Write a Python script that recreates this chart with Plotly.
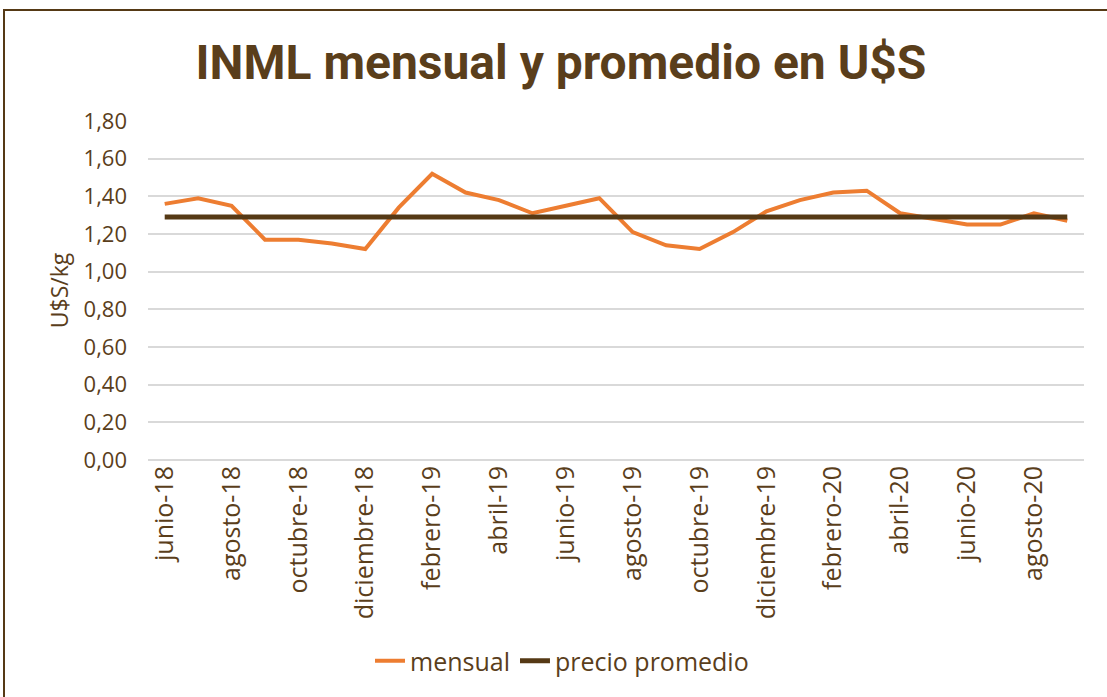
import plotly.graph_objects as go

months = ["junio-18", "julio-18", "agosto-18", "septiembre-18", "octubre-18", "noviembre-18",
          "diciembre-18", "enero-19", "febrero-19", "marzo-19", "abril-19", "mayo-19",
          "junio-19", "julio-19", "agosto-19", "septiembre-19", "octubre-19", "noviembre-19",
          "diciembre-19", "enero-20", "febrero-20", "marzo-20", "abril-20", "mayo-20",
          "junio-20", "julio-20", "agosto-20", "septiembre-20"]
mensual = [1.36, 1.39, 1.35, 1.17, 1.17, 1.15, 1.12, 1.34, 1.52, 1.42, 1.38, 1.31,
           1.35, 1.39, 1.21, 1.14, 1.12, 1.21, 1.32, 1.38, 1.42, 1.43, 1.31, 1.28,
           1.25, 1.25, 1.31, 1.27]
promedio = [1.29] * len(months)
tick_labels = months[::2]

BROWN = "#5a3e1b"
ORANGE = "#ED7D31"
DARK = "#553915"
FONT = "Open Sans"
TFONT = "Roboto"

fig = go.Figure()
fig.add_trace(go.Scatter(x=months, y=mensual, mode="lines", name="mensual",
                         line=dict(color=ORANGE, width=4)))
fig.add_trace(go.Scatter(x=months, y=promedio, mode="lines", name="precio promedio",
                         line=dict(color=DARK, width=5)))

L, R, T, B = 148, 23, 121, 237
W, H = 1107, 697
pw, ph = W - L - R, H - T - B

fig.update_layout(
    width=W, height=H,
    margin=dict(l=L, r=R, t=T, b=B),
    paper_bgcolor="white", plot_bgcolor="white",
    separators=",.",
    font=dict(family=FONT, color=BROWN, size=22),
    title=dict(text="<b>INML mensual y promedio en U$S</b>", x=561 / W, xanchor="center",
               xref="container", y=1 - 62 / H, yanchor="middle",
               font=dict(family=TFONT, size=48, color=BROWN)),
    showlegend=True,
    legend=dict(orientation="h", x=(562 - L) / pw, xanchor="center",
                y=-(661 - (T + ph)) / ph, yanchor="middle",
                font=dict(family=FONT, size=25, color=BROWN),
                tracegroupgap=0),
    shapes=[dict(type="rect", xref="paper", yref="paper",
                 x0=(4 - L) / pw, x1=(1110 - L) / pw,
                 y0=-(700 - (T + ph)) / ph, y1=((T + ph) - 10) / ph,
                 line=dict(color=DARK, width=2), fillcolor="rgba(0,0,0,0)", layer="below")],
)
fig.update_xaxes(type="category", categoryorder="array", categoryarray=months,
                 tickmode="array", tickvals=tick_labels, ticktext=tick_labels,
                 tickangle=-90, showgrid=False, showline=False, ticks="",
                 tickfont=dict(family=FONT, size=25, color=BROWN),
                 range=[-0.5, len(months) - 0.5])
fig.update_yaxes(range=[0, 1.8], dtick=0.2, tick0=0, tickformat=".2f",
                 showgrid=True, gridcolor="#D9D9D9", gridwidth=2,
                 zeroline=True, zerolinecolor="#D9D9D9", zerolinewidth=2,
                 showline=False, ticks="", ticklabelstandoff=20,
                 tickfont=dict(family=FONT, size=22, color=BROWN),
                 title=dict(text="U$S/kg", font=dict(family=FONT, size=23, color=BROWN), standoff=8))

fig.write_html("out.html")
